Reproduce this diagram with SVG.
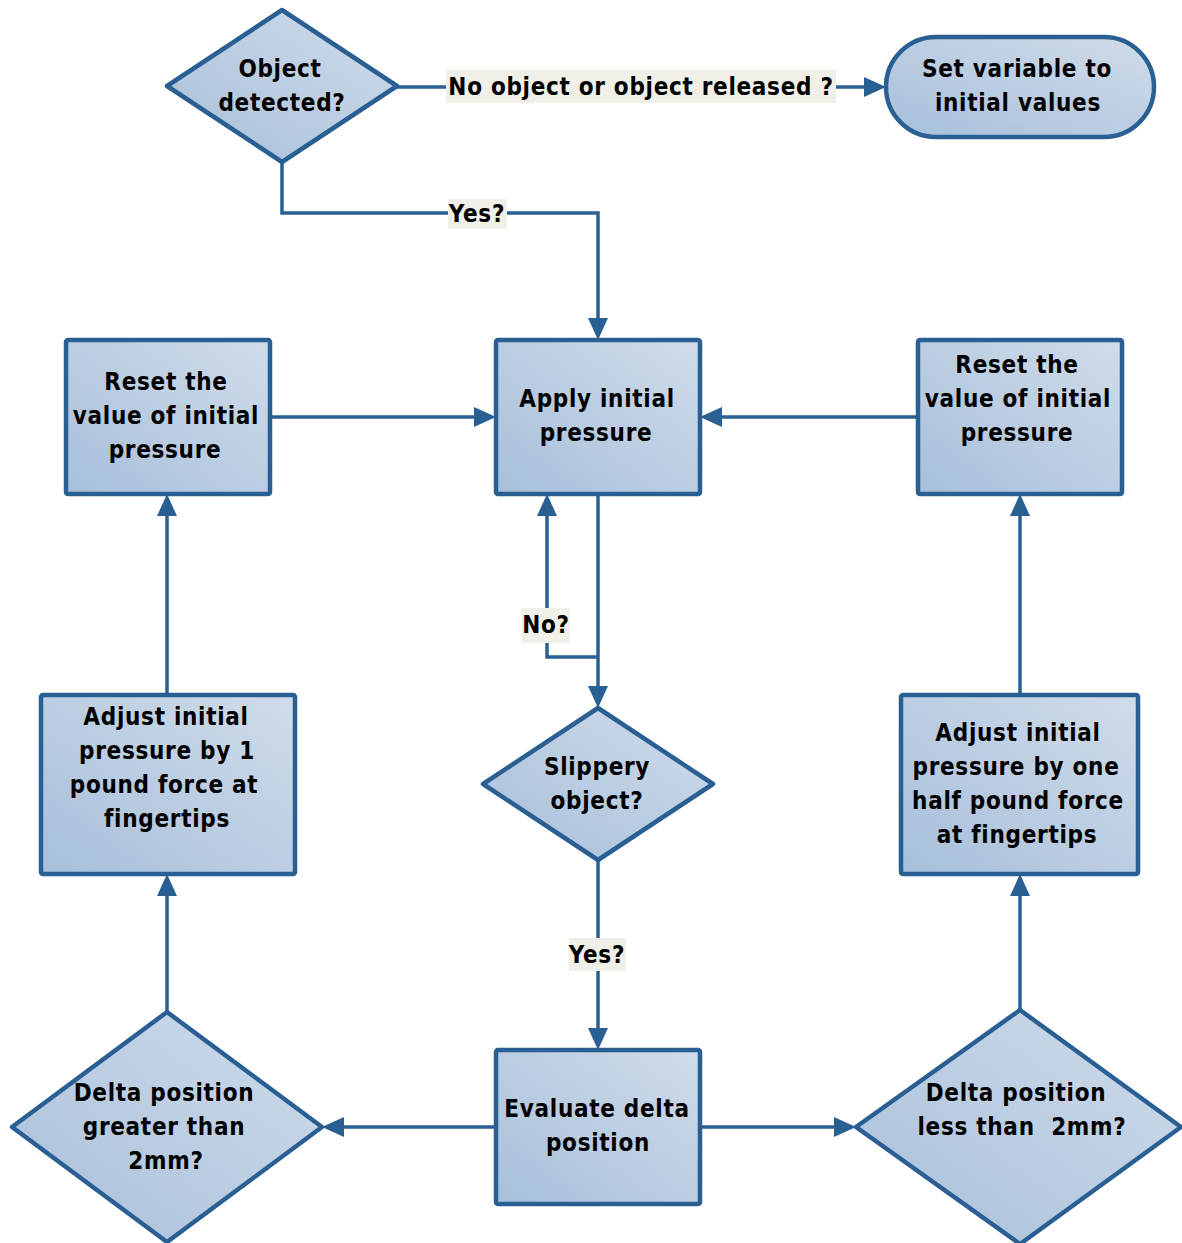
<svg xmlns="http://www.w3.org/2000/svg" width="1182" height="1243" viewBox="0 0 1182 1243">
<defs>
<linearGradient id="g" x1="0" y1="1" x2="1" y2="0">
<stop offset="0" stop-color="#a7bfda"/>
<stop offset="1" stop-color="#d0dcea"/>
</linearGradient>
</defs>
<style>
.n{fill:url(#g);stroke:#2a5f94;stroke-width:4.5;stroke-linejoin:round}
.t{font-family:"DejaVu Sans Condensed","DejaVu Sans",sans-serif;font-weight:bold;font-size:24px;fill:#000;text-anchor:middle;letter-spacing:0.7px;white-space:pre}
.c{fill:none;stroke:#2a5f94;stroke-width:3.5}
.lb{fill:#f0f0e8}
.a{fill:#2a5f94}
</style>
<rect width="1182" height="1243" fill="#fff"/>
<g id="connectors">
<path class="c" d="M397,87 H866"/>
<polygon class="a" points="886,87 864,77 864,97"/>
<path class="c" d="M282,162 V213 H598 V320"/>
<polygon class="a" points="598,340 588,318 608,318"/>
<path class="c" d="M270,417 H476"/>
<polygon class="a" points="496,417 474,407 474,427"/>
<path class="c" d="M918,417 H720"/>
<polygon class="a" points="700,417 722,407 722,427"/>
<path class="c" d="M598,494 V688"/>
<polygon class="a" points="598,708 588,686 608,686"/>
<path class="c" d="M598,657 H547 V514"/>
<polygon class="a" points="547,494 537,516 557,516"/>
<path class="c" d="M598,860 V1030"/>
<polygon class="a" points="598,1050 588,1028 608,1028"/>
<path class="c" d="M496,1127 H342"/>
<polygon class="a" points="322,1127 344,1117 344,1137"/>
<path class="c" d="M700,1127 H836"/>
<polygon class="a" points="856,1127 834,1117 834,1137"/>
<path class="c" d="M167,1012 V894"/>
<polygon class="a" points="167,874 157,896 177,896"/>
<path class="c" d="M167,695 V514"/>
<polygon class="a" points="167,494 157,516 177,516"/>
<path class="c" d="M1020,1010 V894"/>
<polygon class="a" points="1020,874 1010,896 1030,896"/>
<path class="c" d="M1020,695 V514"/>
<polygon class="a" points="1020,494 1010,516 1030,516"/>
<rect class="lb" x="446" y="70" width="390" height="33"/>
<text class="t" x="641" y="95">No object or object released ?</text>
<rect class="lb" x="448" y="199" width="59" height="30"/>
<text class="t" x="477" y="222">Yes?</text>
<rect class="lb" x="522" y="608" width="48" height="35"/>
<text class="t" x="546" y="633">No?</text>
<rect class="lb" x="569" y="938" width="57" height="33"/>
<text class="t" x="597" y="963">Yes?</text>
</g>
<g id="object-detected">
<polygon class="n" points="282,10 397,86 282,162 167,86"/>
<text class="t" x="280" y="77">Object</text>
<text class="t" x="282" y="111">detected?</text>
</g>
<g id="set-variable">
<rect class="n" x="886" y="37" width="268" height="100" rx="50"/>
<text class="t" x="1017" y="77">Set variable to</text>
<text class="t" x="1018" y="111">initial values</text>
</g>
<g id="reset-left">
<rect class="n" x="66" y="340" width="204" height="154" rx="2"/>
<text class="t" x="166" y="390">Reset the</text>
<text class="t" x="166" y="424">value of initial</text>
<text class="t" x="165" y="458">pressure</text>
</g>
<g id="apply">
<rect class="n" x="496" y="340" width="204" height="154" rx="2"/>
<text class="t" x="597" y="407">Apply initial</text>
<text class="t" x="596" y="441">pressure</text>
</g>
<g id="reset-right">
<rect class="n" x="918" y="340" width="204" height="154" rx="2"/>
<text class="t" x="1017" y="373">Reset the</text>
<text class="t" x="1018" y="407">value of initial</text>
<text class="t" x="1017" y="441">pressure</text>
</g>
<g id="adjust-left">
<rect class="n" x="41" y="695" width="254" height="179" rx="2"/>
<text class="t" x="166" y="725">Adjust initial</text>
<text class="t" x="167" y="759">pressure by 1</text>
<text class="t" x="164" y="793">pound force at</text>
<text class="t" x="167" y="827">fingertips</text>
</g>
<g id="slippery">
<polygon class="n" points="598,708 713,784 598,860 483,784"/>
<text class="t" x="597" y="775">Slippery</text>
<text class="t" x="597" y="809">object?</text>
</g>
<g id="adjust-right">
<rect class="n" x="901" y="695" width="237" height="179" rx="2"/>
<text class="t" x="1018" y="741">Adjust initial</text>
<text class="t" x="1016" y="775">pressure by one</text>
<text class="t" x="1018" y="809">half pound force</text>
<text class="t" x="1017" y="843">at fingertips</text>
</g>
<g id="evaluate">
<rect class="n" x="496" y="1050" width="204" height="154" rx="2"/>
<text class="t" x="597" y="1117">Evaluate delta</text>
<text class="t" x="598" y="1151">position</text>
</g>
<g id="delta-greater">
<polygon class="n" points="167,1012 322,1127 167,1242 12,1127"/>
<text class="t" x="164" y="1101">Delta position</text>
<text class="t" x="164" y="1135">greater than</text>
<text class="t" x="166" y="1169">2mm?</text>
</g>
<g id="delta-less">
<polygon class="n" points="1020,1010 1181,1127 1020,1244 856,1127"/>
<text class="t" x="1016" y="1101">Delta position</text>
<text class="t" x="1022" y="1135">less than  2mm?</text>
</g>
</svg>
